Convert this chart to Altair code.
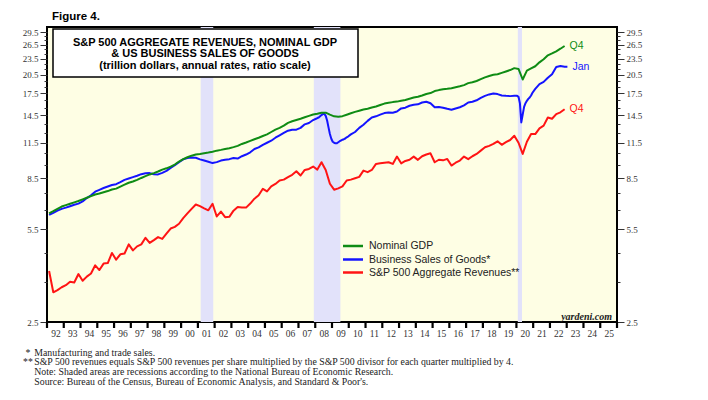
import altair as alt
import pandas as pd

W, H = 570, 295

# ---------------- data ----------------
series_names = ["Nominal GDP", "Business Sales of Goods*", "S&P 500 Aggregate Revenues**"]
series_colors = ["#0f8c14", "#1414ff", "#ff1414"]
end_labels = ["Q4", "Jan", "Q4"]

gdp_q = [
    6.30, 6.42, 6.55, 6.68, 6.76, 6.84, 6.92, 7.00, 7.10, 7.20, 7.30, 7.40,
    7.46, 7.54, 7.62, 7.72, 7.78, 7.92, 8.05, 8.18, 8.27, 8.38, 8.52, 8.65,
    8.78, 8.88, 9.00, 9.15, 9.25, 9.38, 9.55, 9.80, 10.00, 10.16, 10.30, 10.40,
    10.45, 10.52, 10.58, 10.65, 10.75, 10.82, 10.90, 10.98, 11.08, 11.20, 11.38, 11.52,
    11.68, 11.85, 12.00, 12.18, 12.35, 12.60, 12.85, 13.05, 13.30, 13.62, 13.80, 13.95,
    14.10, 14.28, 14.45, 14.62, 14.72, 14.85, 14.85, 14.60, 14.40, 14.35, 14.42, 14.60,
    14.78, 14.95, 15.10, 15.25, 15.35, 15.52, 15.65, 15.85, 16.05, 16.15, 16.25, 16.32,
    16.45, 16.55, 16.72, 16.90, 17.00, 17.20, 17.42, 17.55, 17.85, 18.00, 18.12, 18.20,
    18.30, 18.45, 18.60, 18.78, 19.10, 19.25, 19.45, 19.75, 20.05, 20.30, 20.50, 20.60,
    20.85, 21.10, 21.35, 21.70, 21.55, 19.70, 21.25, 21.65, 22.05, 22.80, 23.40, 24.20,
    24.60, 25.05, 25.60, 26.20,
]

sp_q = [
    3.86, 3.22, 3.28, 3.36, 3.42, 3.52, 3.50, 3.76, 3.55, 3.68, 3.78, 4.05,
    3.89, 4.11, 4.13, 4.50, 4.25, 4.45, 4.48, 4.84, 4.60, 4.76, 4.84, 5.12,
    4.90, 5.02, 5.15, 5.07, 5.30, 5.54, 5.62, 5.77, 6.05, 6.30, 6.55, 6.80,
    6.70, 6.58, 6.47, 6.84, 6.14, 6.40, 6.10, 6.12, 6.45, 6.65, 6.62, 6.62,
    6.85, 7.14, 7.35, 7.77, 7.60, 7.93, 8.10, 8.34, 8.40, 8.58, 8.75, 9.02,
    8.70, 9.12, 9.20, 9.39, 9.15, 9.74, 9.12, 8.11, 7.71, 7.80, 7.93, 8.34,
    8.40, 8.50, 8.60, 9.07, 8.95, 9.12, 9.60, 9.65, 9.70, 9.74, 9.60, 10.22,
    9.65, 9.85, 9.95, 10.22, 9.94, 10.25, 10.40, 10.51, 9.74, 9.95, 9.90, 10.02,
    9.47, 9.70, 9.88, 10.22, 10.00, 10.25, 10.45, 10.75, 11.06, 11.20, 11.38, 11.64,
    11.30, 11.55, 11.77, 12.21, 11.50, 10.46, 11.60, 12.38, 12.38, 13.00, 13.30, 14.26,
    14.10, 14.68, 14.90, 15.30,
]

biz_q_1992_2007 = [
    6.22, 6.33, 6.45, 6.55, 6.62, 6.70, 6.78, 6.85, 6.98, 7.18, 7.35, 7.58,
    7.70, 7.82, 7.92, 8.02, 8.08, 8.22, 8.38, 8.48, 8.58, 8.68, 8.80, 8.87,
    8.88, 8.80, 8.78, 8.90, 9.05, 9.28, 9.50, 9.75, 9.98, 10.10, 10.15, 10.12,
    9.98, 9.88, 9.78, 9.67, 9.75, 9.88, 9.95, 10.00, 10.10, 10.05, 10.25, 10.40,
    10.60, 10.90, 11.05, 11.30, 11.50, 11.70, 12.00, 12.25, 12.50, 12.74, 12.85, 12.85,
    13.05, 13.45, 13.60, 13.95,
]
biz_m_2008_2009 = [
    14.10, 14.19, 14.25, 14.40, 14.55, 14.68, 14.70, 14.45, 13.90, 13.10, 12.38, 11.90,
    11.60, 11.50, 11.44, 11.45, 11.55, 11.65, 11.72, 11.80, 11.85, 11.92, 12.04, 12.12,
]
biz_q_2010_2019 = [
    12.35, 12.60, 13.05, 13.40, 13.85, 14.26, 14.40, 14.60, 14.80, 14.88, 14.85, 15.00,
    15.40, 15.50, 15.75, 15.90, 15.95, 16.20, 16.30, 16.10, 15.55, 15.60, 15.50, 15.35,
    15.23, 15.40, 15.55, 15.80, 16.20, 16.30, 16.50, 16.85, 17.14, 17.35, 17.49, 17.40,
    17.20, 17.14, 17.10, 17.15,
]
biz_m_2020 = [17.14, 17.00, 16.10, 13.67, 14.60, 15.60, 16.10, 16.43, 16.70, 16.90, 17.20, 17.60]
biz_q_2021_2022 = [18.20, 18.94, 19.30, 20.00, 20.60, 21.92, 22.10, 21.95]
biz_jan_2023 = 21.95

recession_start = ["2001-03", "2007-12", "2020-02"]
recession_end = ["2001-11", "2009-06", "2020-04"]

y_tick_values = [2.5 + k for k in range(28)]
x_tick_years = list(range(1992, 2027))

title_lines = [
    "S&P 500 AGGREGATE REVENUES, NOMINAL GDP",
    "& US BUSINESS SALES OF GOODS",
    "(trillion dollars, annual rates, ratio scale)",
]
foot_marks = ["*", "**"]
foot_lines = [
    "Manufacturing and trade sales.",
    "S&P 500 revenues equals S&P 500 revenues per share multiplied by the S&P 500 divisor for each quarter multiplied by 4.",
    "Note: Shaded areas are recessions according to the National Bureau of Economic Research.",
    "Source: Bureau of the Census, Bureau of Economic Analysis, and Standard & Poor's.",
]


def q_time(i, start=1992):
    return start + i // 4 + (i % 4) * 0.25 + 0.125


def m_time(y, m):
    return y + (m - 0.5) / 12


rows = []
for i, v in enumerate(gdp_q):
    rows.append({"t": q_time(i), "value": v, "series": series_names[0]})
for i, v in enumerate(sp_q):
    rows.append({"t": q_time(i), "value": v, "series": series_names[2]})

biz_t, biz_v = [], []
for i, v in enumerate(biz_q_1992_2007):
    biz_t.append(q_time(i, 1992)); biz_v.append(v)
for i, v in enumerate(biz_m_2008_2009):
    biz_t.append(m_time(2008 + i // 12, i % 12 + 1)); biz_v.append(v)
for i, v in enumerate(biz_q_2010_2019):
    biz_t.append(q_time(i, 2010)); biz_v.append(v)
for i, v in enumerate(biz_m_2020):
    biz_t.append(m_time(2020, i + 1)); biz_v.append(v)
for i, v in enumerate(biz_q_2021_2022):
    biz_t.append(q_time(i, 2021)); biz_v.append(v)
biz_t.append(m_time(2023, 1)); biz_v.append(biz_jan_2023)
for t, v in zip(biz_t, biz_v):
    rows.append({"t": t, "value": v, "series": series_names[1]})

df = pd.DataFrame(rows)

ends = []
for name, col, lab in zip(series_names, series_colors, end_labels):
    last = df[df.series == name].sort_values("t").iloc[-1]
    ends.append({"t": last.t, "value": last.value, "label": lab, "color": col})
df_end = pd.DataFrame(ends)


def ym_start(s):
    y, m = s.split("-")
    return int(y) + (int(m) - 1) / 12


def ym_end(s):
    y, m = s.split("-")
    return int(y) + int(m) / 12


df_rec = pd.DataFrame({
    "start": [ym_start(s) for s in recession_start],
    "end": [ym_end(s) for s in recession_end],
})
df_years = pd.DataFrame({"year": [float(y) for y in x_tick_years]})
dummy = pd.DataFrame({"k": [0]})

x_scale = alt.Scale(domain=[1992, 2026], nice=False, zero=False)
y_scale = alt.Scale(type="log", domain=[2.5, 30.8], nice=False)

x_axis = alt.Axis(
    orient="bottom",
    values=x_tick_years,
    labelExpr="datum.value < 2026 ? format(datum.value % 100, '02d') : ''",
    labelOffset=8.4, labelAlign="center", labelFlush=False, labelOverlap=False, labelBound=False,
    ticks=False, domain=False, grid=False,
    labelFont="Liberation Serif", labelFontSize=9.5, labelColor="#333", labelPadding=6,
    title=None,
)

major_test = "(datum.value - 2.5) % 3 === 0"


def y_axis(orient):
    return alt.Axis(
        orient=orient, values=y_tick_values,
        labelExpr=major_test + " ? format(datum.value, '.1f') : ''",
        tickSize={"condition": {"test": major_test, "value": 7}, "value": 3},
        tickColor="#333", tickWidth=1, domain=False, grid=False,
        labelFont="Liberation Serif", labelFontSize=9, labelColor="#333",
        labelPadding=2, labelOverlap=False, labelFlush=False, title=None,
    )


recess = alt.Chart(df_rec).mark_rect(color="#e2e2fa").encode(
    x=alt.X("start:Q", scale=x_scale, axis=x_axis),
    x2="end:Q",
    y=alt.value(0), y2=alt.value(H),
)

# heavy year-boundary ticks below the frame
year_ticks = alt.Chart(df_years).mark_rule(color="black", strokeWidth=2.2, clip=False).encode(
    x=alt.X("year:Q", scale=x_scale, axis=x_axis),
    y=alt.value(H), y2=alt.value(H + 6),
)

box = alt.Chart(dummy).mark_rect(fill="white", stroke="black", strokeWidth=1.5).encode(
    x=alt.value(6), x2=alt.value(311), y=alt.value(2), y2=alt.value(50)
)
box_text = alt.Chart(dummy).mark_text(
    font="Liberation Sans", fontSize=11, fontWeight="bold", align="center",
    baseline="top", lineHeight=11.8, color="black",
).encode(x=alt.value(158), y=alt.value(9.5), text=alt.value(title_lines))


def line_layer(idx, with_axis):
    return alt.Chart(df).transform_filter(
        alt.datum.series == series_names[idx]
    ).mark_line(strokeWidth=2, strokeJoin="round", color=series_colors[idx]).encode(
        x=alt.X("t:Q", scale=x_scale, axis=x_axis),
        y=alt.Y("value:Q", scale=y_scale, axis=y_axis("left") if with_axis else None),
        order="t:Q",
    )


line_gdp = line_layer(0, True)
line_biz = line_layer(1, False)
line_sp = line_layer(2, False)

end_text = alt.Chart(df_end).mark_text(
    align="left", baseline="middle", dx=5, font="Liberation Sans", fontSize=10.5
).encode(
    x=alt.X("t:Q", scale=x_scale, axis=x_axis),
    y=alt.Y("value:Q", scale=y_scale, axis=y_axis("right")),
    text="label:N",
    color=alt.Color("color:N", scale=None),
)

legend_layers = []
legend_y = [219, 232.5, 245.5]
for name, col, yy in zip(series_names, series_colors, legend_y):
    legend_layers.append(
        alt.Chart(dummy).mark_rule(color=col, strokeWidth=2.5).encode(
            x=alt.value(296), x2=alt.value(316), y=alt.value(yy)
        )
    )
    legend_layers.append(
        alt.Chart(dummy).mark_text(
            align="left", baseline="middle", font="Liberation Sans", fontSize=10.5, color="#222"
        ).encode(x=alt.value(322), y=alt.value(yy), text=alt.value(name))
    )

yardeni = alt.Chart(dummy).mark_text(
    font="Liberation Serif", fontStyle="italic", fontWeight="bold", fontSize=10,
    align="right", baseline="alphabetic", color="#222",
).encode(x=alt.value(565), y=alt.value(293), text=alt.value("yardeni.com"))

fig_title = alt.Chart(dummy).mark_text(
    font="Liberation Sans", fontWeight="bold", fontSize=11.5, align="left",
    baseline="alphabetic", color="black",
).encode(x=alt.value(5), y=alt.value(-7), text=alt.value("Figure 4."))

foot_star = alt.Chart(dummy).mark_text(
    font="Liberation Serif", fontSize=9.8, align="center", baseline="top",
    lineHeight=9.7, color="#222",
).encode(x=alt.value(-19), y=alt.value(320.5), text=alt.value(foot_marks))

foot_text = alt.Chart(dummy).mark_text(
    font="Liberation Serif", fontSize=9.8, align="left", baseline="top",
    lineHeight=9.7, color="#222",
).encode(x=alt.value(-12.7), y=alt.value(320.5), text=alt.value(foot_lines))

chart = alt.layer(
    recess, box, box_text, line_biz, line_gdp, line_sp, end_text,
    *legend_layers, yardeni, fig_title, foot_star, foot_text, year_ticks,
).resolve_axis(y="independent").properties(
    width=W, height=H,
    padding={"left": 39, "top": 19, "right": 83, "bottom": 65},
    autosize=alt.AutoSizeParams(type="none"),
).configure_view(fill="#fefee4", stroke="black", strokeWidth=2)

chart.save("out.html", embed_options={"renderer": "svg", "actions": False})
